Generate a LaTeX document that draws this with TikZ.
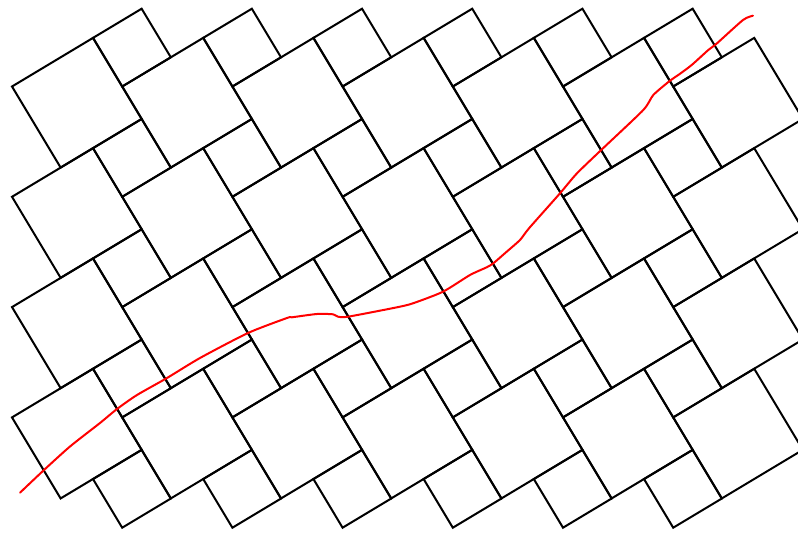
\documentclass[tikz,border=0pt]{standalone}
\begin{document}
\begin{tikzpicture}[x=1pt,y=-1pt,
  tile/.style={draw=black,line width=2pt,line join=miter},
  curve/.style={draw=red,line width=2pt,line join=round,line cap=round}]
\useasboundingbox (0,0) rectangle (798,534);
\clip (0,0) rectangle (798,534);
% big squares
\foreach \i in {0,...,6}{
  \foreach \j in {0,...,3}{
    \path[tile] ({12+110.2*\i},{86.5+110.3*\j}) -- ++(81.03,-48.62) -- ++(48.62,81.03) -- ++(-81.03,48.62) -- cycle;
  }
}
% small squares
\foreach \i in {0,...,5}{
  \foreach \j in {0,...,4}{
    \path[tile] ({93.03+110.2*\i},{37.88+110.3*\j}) -- ++(48.62,-29.17) -- ++(29.17,48.62) -- ++(-48.62,29.17) -- cycle;
  }
}
% red curve
\path[curve] plot[smooth,tension=0.4] coordinates {
(20,492.7) (44,470) (70,446.5) (100,423) (117,409) (137,395) (167,378) (200,358)
(248,333) (287,318) (292,317.3) (317,314) (333,314.3) (338,316.7) (348,316.7)
(397,307.3) (413,303.3) (443,291.7) (470,275) (486.7,267.3) (493.3,263.3)
(506.7,251.7) (520,240) (529,228.3) (560,193.3) (577,173.3) (603,148.3) (643.3,110) (653.3,95)
(670,80.7) (678.3,75) (691.7,65) (708.3,50) (717,43.3) (743,20) (753,15.7)};
\end{tikzpicture}
\end{document}
